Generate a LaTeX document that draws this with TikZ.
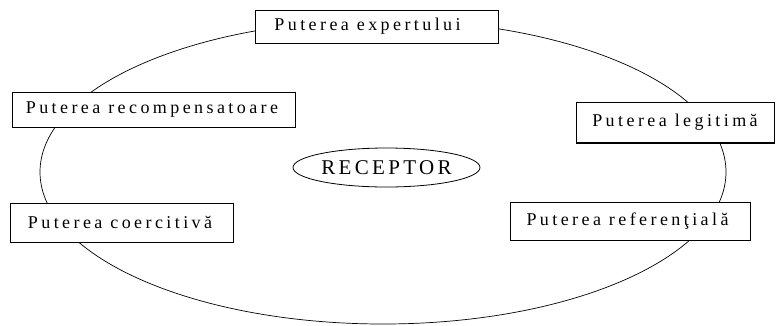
\documentclass[tikz,border=0pt]{standalone}
\usepackage{fontspec}
\usetikzlibrary{shapes.geometric}
\setmainfont{Liberation Serif}[LetterSpace=19]
\newfontfamily\receptorfont{Liberation Serif}[LetterSpace=16]
\begin{document}
\begin{tikzpicture}[x=1pt,y=-1pt,
  powerbox/.style={draw=black, line width=0.9pt, fill=white, inner sep=0pt},
  powertext/.style={inner sep=0pt, font=\fontsize{18}{20}\selectfont},
  centre/.style={draw=black, line width=0.8pt, fill=white, ellipse, inner sep=0pt,
    font=\receptorfont\fontsize{21}{23}\selectfont}]
\useasboundingbox (0,0) rectangle (776,325);
% outer ring linking the forms of power
\draw[line width=0.7pt] (383,172) ellipse [x radius=343, y radius=152];
% boxes: name, centre, width, height, text offset, text
\foreach \n/\cx/\cy/\w/\h/\dx/\t in {
  exp/376.5/26.5/243/33/-9/{Puterea expertului},
  rec/153.5/109.5/283/35/-1.5/{Puterea recompensatoare},
  leg/675/122.5/198/40/0/{Puterea legitimă},
  coe/121.5/222.5/223/39/-1.5/{Puterea coercitivă},
  ref/630/221/240/38/-2.5/{Puterea referenţială}}{
  \node[powerbox, minimum width=\w pt, minimum height=\h pt] (\n) at (\cx,\cy) {};
  \draw[line width=1.6pt] (\n.north east) -- (\n.south east) -- (\n.south west);
  \node[powertext] (\n-text) at ([xshift=\dx pt]\n.center) {\t};
}
\node[centre, minimum width=187pt, minimum height=39pt] (receptor) at (386.5,167.5) {RECEPTOR};
\end{tikzpicture}
\end{document}
